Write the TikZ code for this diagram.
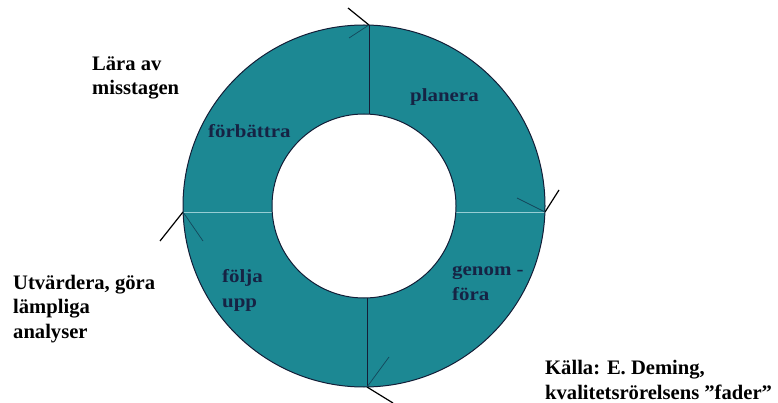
\documentclass[tikz,border=0pt]{standalone}
\usepackage{fontspec}
\setmainfont{Liberation Serif}
\newfontfamily\ringfont[FakeStretch=1.13]{Liberation Serif}
\definecolor{ringfill}{RGB}{28,136,147}
\definecolor{ringline}{RGB}{20,30,55}
\definecolor{ringtext}{RGB}{22,35,68}
\definecolor{divlight}{RGB}{150,205,212}
\definecolor{tickin}{RGB}{20,70,90}
\tikzset{
  outerlabel/.style={anchor=base west, inner sep=0pt, font=\fontsize{20.6}{24.5}\selectfont\bfseries, align=left, text=black},
  ringlabel/.style={anchor=base west, inner sep=0pt, font=\ringfont\fontsize{18.5}{24.5}\selectfont\bfseries, align=left, text=ringtext},
  darkdiv/.style={draw=ringline, line width=0.8pt},
  lightdiv/.style={draw=divlight, line width=0.9pt},
  tickout/.style={draw=black, line width=1.2pt},
  tickinner/.style={draw=tickin, line width=0.7pt}
}
\begin{document}
\begin{tikzpicture}[x=1pt,y=-1pt]
\useasboundingbox (0,0) rectangle (778,403);
% ring
\fill[ringfill, even odd rule] (364,206) circle[radius=181pt] (364,206) circle[radius=92pt];
% dividers
\coordinate (topout) at (369,25);
\coordinate (topin) at (369,114);
\coordinate (botin) at (367,298);
\coordinate (botout) at (367,387);
\coordinate (rightin) at (456,212);
\coordinate (rightout) at (545,212);
\coordinate (leftout) at (183,212);
\coordinate (leftin) at (272,212);
\draw[darkdiv] (topout) -- (topin);
\draw[darkdiv] (botin) -- (botout);
\draw[lightdiv] (rightin) -- (rightout);
\draw[lightdiv] (leftout) -- (leftin);
\draw[ringline, line width=1pt] (364,206) circle[radius=181pt];
\draw[ringline, line width=1pt] (364,206) circle[radius=92pt];
% arrow ticks
\coordinate (t1) at (348,8);   \coordinate (t2) at (349,38);
\coordinate (r1) at (559,190); \coordinate (r2) at (517,198);
\coordinate (b1) at (393,403); \coordinate (b2) at (389,357);
\coordinate (l1) at (160,241); \coordinate (l2) at (203,241);
\draw[tickout] (t1) -- (topout);   \draw[tickinner] (topout) -- (t2);
\draw[tickout] (r1) -- (rightout); \draw[tickinner] (rightout) -- (r2);
\draw[tickout] (b1) -- (botout);   \draw[tickinner] (botout) -- (b2);
\draw[tickout] (l1) -- (leftout);  \draw[tickinner] (leftout) -- (l2);
% ring labels (anchor = baseline of last line)
\node[ringlabel] (planera) at (410,102) {planera};
\node[ringlabel] (forbattra) at (208,138) {förbättra};
\node[ringlabel] (folja) at (222,307) {följa\\upp};
\node[ringlabel] (genom) at (452,300) {genom -\\föra};
% outer labels (anchor = baseline of last line)
\node[outerlabel] (lara) at (92,95) {Lära av\\misstagen};
\node[outerlabel] (utv) at (13,338) {Utvärdera, göra\\lämpliga\\analyser};
\node[outerlabel] (kalla) at (545,399) {Källa: E. Deming,\\kvalitetsrörelsens ”fader”};
\end{tikzpicture}
\end{document}
